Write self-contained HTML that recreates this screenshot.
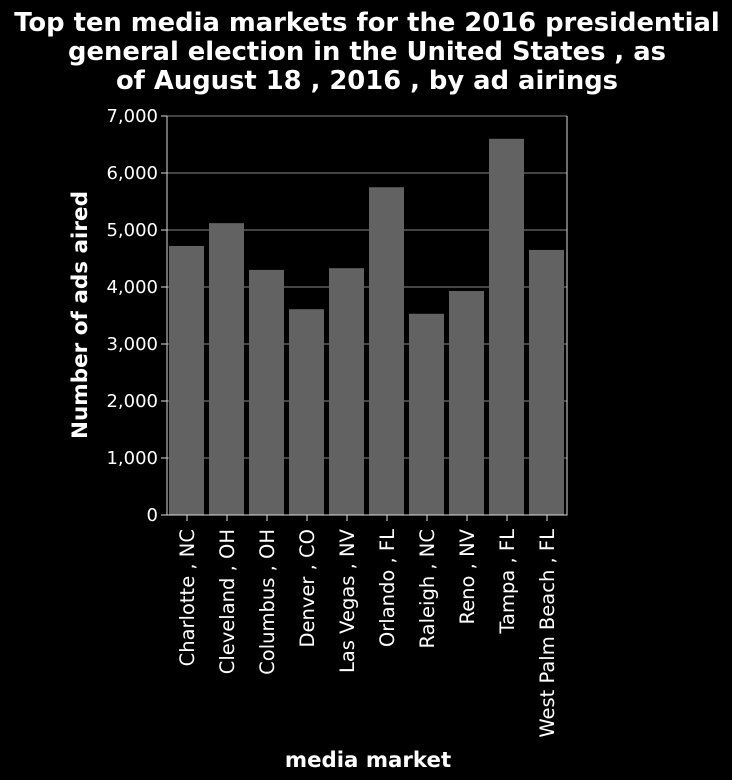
<!DOCTYPE html>
<html><head><meta charset="utf-8"><style>
body{margin:0;background:#000;}
svg{display:block;font-family:"DejaVu Sans","Liberation Sans",sans-serif;}
</style></head><body>
<svg id="chart" width="732" height="780" viewBox="0 0 732 780">
<rect width="732" height="780" fill="#000"/>
<g fill="#fff" font-weight="bold" font-size="25.8" text-anchor="middle">
<text x="367" y="31">Top ten media markets for the 2016 presidential</text>
<text x="367" y="60">general election in the United States , as</text>
<text x="367" y="89">of August 18 , 2016 , by ad airings</text>
</g>
<g id="grid"></g><g id="bars"></g><g id="axes"></g>
<text x="87" y="315" transform="rotate(-90 87 315)" fill="#fff" font-weight="bold" font-size="21.5" text-anchor="middle">Number of ads aired</text>
<text x="368" y="767" fill="#fff" font-weight="bold" font-size="21.3" text-anchor="middle">media market</text>
</svg>
<script>
const categories=["Charlotte , NC","Cleveland , OH","Columbus , OH","Denver , CO","Las Vegas , NV","Orlando , FL","Raleigh , NC","Reno , NV","Tampa , FL","West Palm Beach , FL"];
const values=[4720,5120,4300,3610,4330,5750,3530,3930,6600,4650];
const yTicks=[0,1000,2000,3000,4000,5000,6000,7000];
const yTickLabels=["0","1,000","2,000","3,000","4,000","5,000","6,000","7,000"];
const NS="http://www.w3.org/2000/svg";
const L=167,R=567,T=116,B=515,YMAX=7000;
const y=v=>B-(v/YMAX)*(B-T);
const step=(R-L)/categories.length;
const x=i=>L+i*step;
function mk(t,a,p){const e=document.createElementNS(NS,t);for(const k in a)e.setAttribute(k,a[k]);p.appendChild(e);return e;}
const grid=document.getElementById('grid'),bars=document.getElementById('bars'),axes=document.getElementById('axes');
yTicks.forEach((v,i)=>{
 const g=mk('line',{x1:L,x2:R,y1:y(v),y2:y(v),stroke:'#888','stroke-width':1},grid);
 
 
 const tk=mk('line',{x1:L-6,x2:L,y1:y(v),y2:y(v),stroke:'#ddd'},axes);
 
 
 const t=mk('text',{x:L-9,y:y(v)+6,fill:'#fff','font-size':18,'text-anchor':'end'},axes);
 t.textContent=yTickLabels[i];
 
 
});
categories.forEach((c,i)=>{
 const r=mk('rect',{x:x(i)+2,y:y(values[i]),width:step-5,height:B-y(values[i]),fill:'#626262'},bars);
 
 
 const cx=x(i)+step/2;
 const tk=mk('line',{x1:cx,x2:cx,y1:B,y2:B+6,stroke:'#ddd'},axes);
 
 
 const ty=B+14;
 const t=mk('text',{x:cx+7,y:ty,fill:'#fff','font-size':19.5,'text-anchor':'end',transform:`rotate(-90 ${cx+7} ${ty})`},axes);
 t.textContent=c;
 
 
});
const ax=mk('path',{d:`M${L},${T}V${B}H${R}V${T}`,stroke:'#ddd',fill:'none'},axes);


</script>
</body></html>
